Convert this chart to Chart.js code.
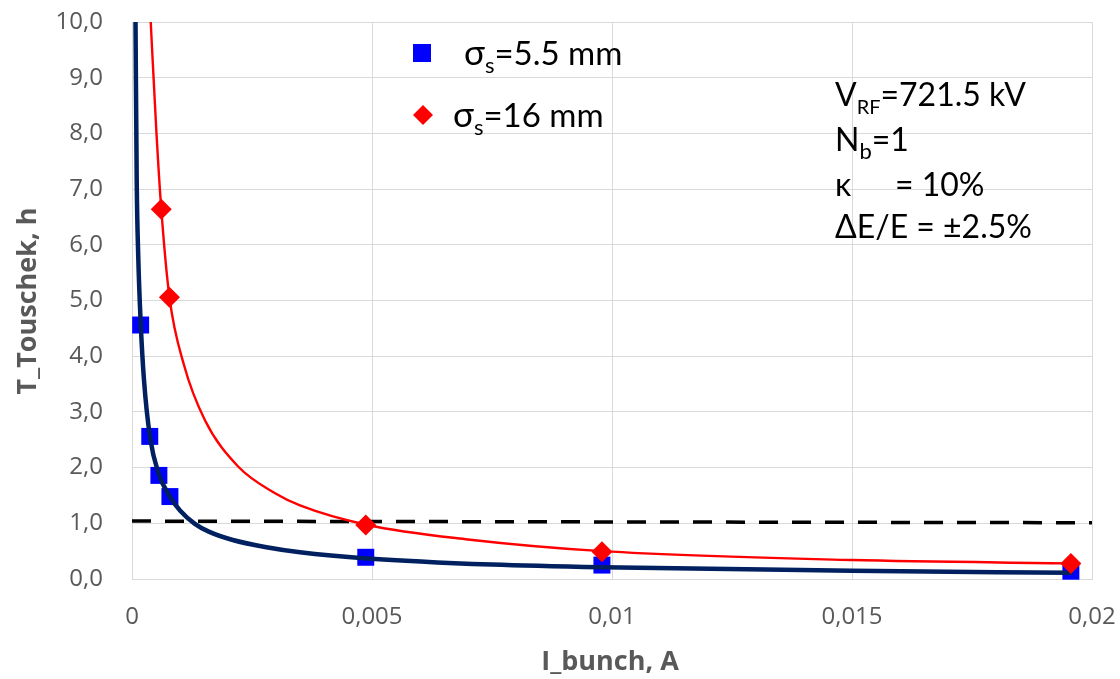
<!DOCTYPE html>
<html><head><meta charset="utf-8">
<script src="https://cdn.jsdelivr.net/npm/chart.js@4.4.1/dist/chart.umd.min.js"></script>
<style>html,body{margin:0;padding:0;background:#fff;overflow:hidden}#c{display:block}</style>
</head><body><canvas id="c" width="1120" height="679"></canvas>
<script>
// ---- data ----
const xTicks = [0, 0.005, 0.01, 0.015, 0.02];
const yTicks = [0, 1, 2, 3, 4, 5, 6, 7, 8, 9, 10];

const blueMarkI = [0.00018, 0.00037, 0.00056, 0.00079, 0.00487, 0.00979, 0.01956];
const blueMarkT = [4.56, 2.56, 1.86, 1.48, 0.39, 0.25, 0.14];
const redMarkI  = [0.00061, 0.00078, 0.00487, 0.00979, 0.01956];
const redMarkT  = [6.64, 5.06, 0.97, 0.49, 0.28];

const blueCurveI = [0.000073, 0.000098, 0.00013, 0.000181, 0.00025, 0.000375, 0.00055, 0.00079, 0.001, 0.00131, 0.0016, 0.0021, 0.0028, 0.0035, 0.0049, 0.0075, 0.0098, 0.015, 0.0196];
const blueCurveT = [10.0, 7.16, 5.8, 4.6, 3.57, 2.55, 1.9, 1.48, 1.23, 0.99, 0.85, 0.7, 0.57, 0.48, 0.37, 0.26, 0.21, 0.15, 0.11];
const redCurveI  = [0.00039, 0.00051, 0.00061, 0.00078, 0.00108, 0.00152, 0.00221, 0.003, 0.0035, 0.0049, 0.007, 0.0098, 0.015, 0.0196];
const redCurveT  = [10.0, 8.0, 6.64, 5.06, 3.85, 2.85, 2.02, 1.53, 1.32, 0.97, 0.71, 0.5, 0.34, 0.28];

const thresholdI = [0, 0.02];
const thresholdT = [1.04, 1.01];

const seriesNames = ['5.5 mm', '16 mm'];
const notes = ['721.5 kV', '1', '10%', '\u00B12.5%'];
const xTitle = 'I_bunch, A';
const yTitle = 'T_Touschek, h';

const pts = (xs, ys) => xs.map((x, i) => ({x: x, y: ys[i]}));

const GRAY = '#595959';
const TICKFONT = {family: 'Open Sans', size: 24};

function subText(ctx, x, y, parts) {
  let cx = x;
  for (const p of parts) {
    ctx.font = p[1] + 'px Lato';
    ctx.fillText(p[0], cx, y + (p[2] || 0));
    cx += ctx.measureText(p[0]).width;
  }
}

const overlay = {
  id: 'overlay',
  afterDraw(chart) {
    const ctx = chart.ctx;
    ctx.save();
    ctx.fillStyle = GRAY;
    ctx.font = 'bold 27px "Open Sans"';
    ctx.textAlign = 'center';
    ctx.textBaseline = 'middle';
    ctx.fillText(xTitle, 610, 662);
    ctx.save();
    ctx.translate(28, 301);
    ctx.rotate(-Math.PI / 2);
    ctx.fillText(yTitle, 0, 0);
    ctx.restore();

    // legend
    ctx.textAlign = 'left';
    ctx.textBaseline = 'alphabetic';
    ctx.fillStyle = '#0000ff';
    ctx.fillRect(413, 44, 18, 18);
    ctx.fillStyle = '#ff0000';
    ctx.beginPath();
    ctx.moveTo(423, 105); ctx.lineTo(433, 115); ctx.lineTo(423, 125); ctx.lineTo(413, 115); ctx.closePath();
    ctx.fill();
    ctx.fillStyle = '#000';
    subText(ctx, 464, 65, [['\u03C3', 35], ['s', 22, 8], ['=' + seriesNames[0], 33]]);
    subText(ctx, 453, 127, [['\u03C3', 35], ['s', 22, 8], ['=' + seriesNames[1], 33]]);

    // annotations
    subText(ctx, 835, 106, [['V', 32], ['RF', 20, 8], ['=' + notes[0], 32]]);
    subText(ctx, 835, 151, [['N', 32], ['b', 22, 8], ['=' + notes[1], 32]]);
    subText(ctx, 835, 196, [['\u03BA', 32]]);
    subText(ctx, 895, 196, [['= ' + notes[2], 32]]);
    subText(ctx, 835, 238, [['\u0394E/E = ' + notes[3], 32]]);
    ctx.restore();
  }
};

new Chart(document.getElementById('c'), {
  type: 'scatter',
  data: {
    datasets: [
      {data: pts(thresholdI, thresholdT), showLine: true, borderColor: '#000', borderWidth: 3.5,
       borderDash: [19, 14], pointRadius: 0, order: 5},
      {data: pts(blueMarkI, blueMarkT), pointStyle: 'rect', pointRadius: 12, backgroundColor: '#0000ff',
       borderColor: '#0000ff', borderWidth: 0, showLine: false, clip: false, order: 4},
      {data: pts(blueCurveI, blueCurveT), showLine: true, borderColor: '#002060', borderWidth: 4.5,
       pointRadius: 0, cubicInterpolationMode: 'monotone', order: 3},
      {data: pts(redCurveI, redCurveT), showLine: true, borderColor: '#ff0000', borderWidth: 2.4,
       pointRadius: 0, cubicInterpolationMode: 'monotone', order: 2},
      {data: pts(redMarkI, redMarkT), pointStyle: 'rectRot', pointRadius: 10.5, backgroundColor: '#ff0000',
       borderColor: '#ff0000', borderWidth: 0, showLine: false, clip: false, order: 1}
    ]
  },
  options: {
    responsive: false,
    animation: false,
    devicePixelRatio: 1,
    layout: {padding: {top: 22, right: 28, left: 0, bottom: 0}},
    plugins: {legend: {display: false}, tooltip: {enabled: false}},
    scales: {
      x: {
        type: 'linear', min: 0, max: 0.02,
        afterBuildTicks: s => { s.ticks = xTicks.map(v => ({value: v})); },
        afterFit: s => { s.height = 100; },
        grid: {color: '#d9d9d9', lineWidth: 1, drawTicks: true, tickLength: 24, tickColor: 'rgba(0,0,0,0)'},
        border: {color: '#d9d9d9', width: 1},
        ticks: {color: GRAY, font: TICKFONT, padding: 0, maxRotation: 0,
                callback: v => String(Math.round(v * 1000) / 1000).replace('.', ',')}
      },
      y: {
        type: 'linear', min: 0, max: 10,
        afterBuildTicks: s => { s.ticks = yTicks.map(v => ({value: v})); },
        afterFit: s => { s.width = 132; },
        grid: {color: '#d9d9d9', lineWidth: 1, drawTicks: true, tickLength: 29, tickColor: 'rgba(0,0,0,0)'},
        border: {color: '#d9d9d9', width: 1},
        ticks: {color: GRAY, font: TICKFONT, padding: 0,
                callback: v => v.toFixed(1).replace('.', ',')}
      }
    }
  },
  plugins: [overlay]
});
</script>
</body></html>
